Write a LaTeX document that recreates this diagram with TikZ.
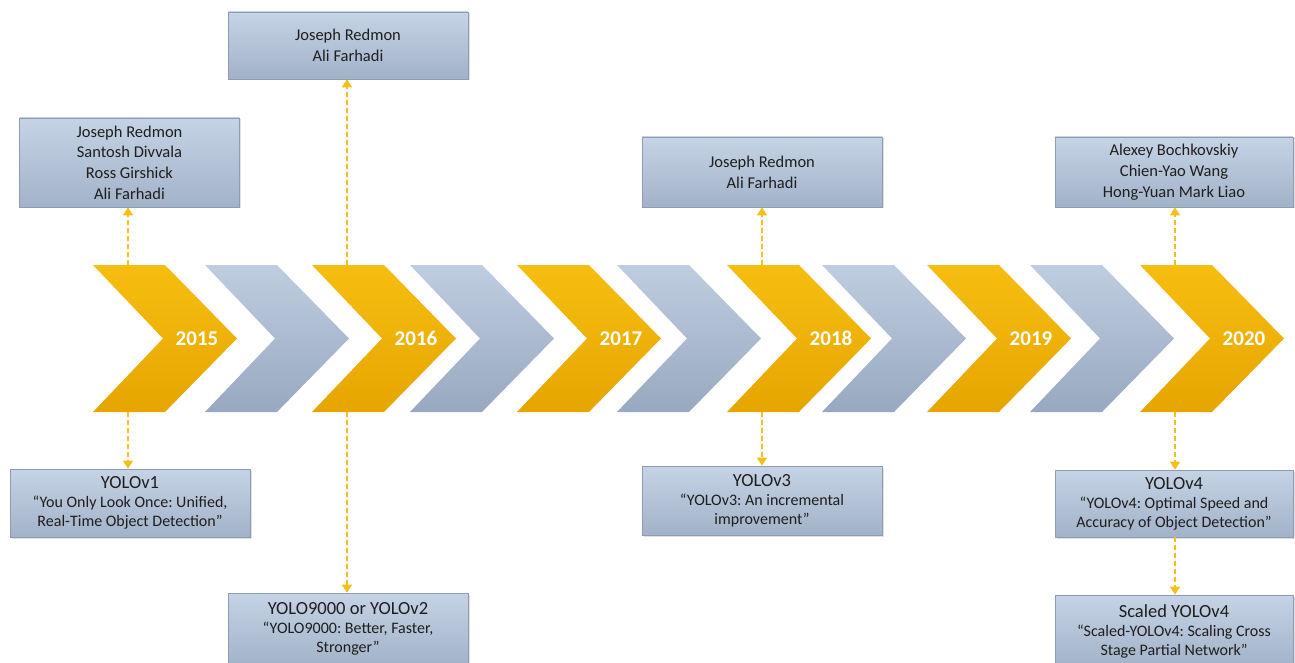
\documentclass[tikz,border=0pt]{standalone}
\usepackage{fontspec}
\setmainfont{Carlito}
\frenchspacing
\usetikzlibrary{arrows.meta,shadows}
\definecolor{goldtop}{HTML}{F6BE10}
\definecolor{goldbot}{HTML}{E6A500}
\definecolor{bluetop}{HTML}{BFCDE0}
\definecolor{bluebot}{HTML}{98A8C0}
\definecolor{boxtop}{HTML}{C6D3E6}
\definecolor{boxbot}{HTML}{A2B2C8}
\definecolor{boxline}{HTML}{8D9CB2}
\definecolor{conncol}{HTML}{F3C01A}
\definecolor{txt}{HTML}{1E1E1E}
\tikzset{
  goldchev/.style={top color=goldtop,bottom color=goldbot,draw=none},
  bluechev/.style={top color=bluetop,bottom color=bluebot,draw=none},
  yearlbl/.style={text=white,font=\fontsize{21}{22}\selectfont\bfseries,inner sep=0pt},
  infobox/.style={rectangle,top color=boxtop,bottom color=boxbot,draw=boxline,line width=0.6pt,
    minimum width=240pt,inner sep=0pt,align=center,text=txt,
    drop shadow={shadow xshift=1.5pt,shadow yshift=-1.5pt,opacity=0.25}},
  authfont/.style={font=\fontsize{16.5}{20.7}\selectfont},
  paperfont/.style={font=\fontsize{16}{19}\selectfont},
  conn/.style={draw=conncol,line width=1.3pt,dash pattern=on 5pt off 3pt,
    -{Triangle[width=10pt,length=8pt,fill=conncol]}},
}
\newcommand{\ttl}[1]{{\fontsize{18.5}{19}\selectfont #1}}
\newcommand{\chev}[3]{% left x, style, name
  \path[#2] (#1,265) -- ++(72,0) -- ++(72,73.5) -- ++(-72,73.5) -- ++(-72,0) -- ++(70,-73.5) -- cycle;
  \coordinate (#3t) at ({#1+35},265);
  \coordinate (#3b) at ({#1+35},412);
}
\begin{document}
\begin{tikzpicture}[x=1pt,y=-1pt]
\useasboundingbox (0,0) rectangle (1295,663);
% chevrons
\chev{93}{goldchev}{c1}
\chev{205}{bluechev}{d1}
\chev{312}{goldchev}{c2}
\chev{410}{bluechev}{d2}
\chev{517}{goldchev}{c3}
\chev{617}{bluechev}{d3}
\chev{727}{goldchev}{c4}
\chev{822}{bluechev}{d4}
\chev{927}{goldchev}{c5}
\chev{1030}{bluechev}{d5}
\chev{1140}{goldchev}{c6}
\node[yearlbl] (y1) at (197,338.5) {2015};
\node[yearlbl] (y2) at (416,338.5) {2016};
\node[yearlbl] (y3) at (621,338.5) {2017};
\node[yearlbl] (y4) at (831,338.5) {2018};
\node[yearlbl] (y5) at (1031,338.5) {2019};
\node[yearlbl] (y6) at (1244,338.5) {2020};
% author boxes
\node[infobox,authfont,minimum width=220pt,minimum height=89pt] (a1) at (129.5,162.5)
  {Joseph Redmon\\Santosh Divvala\\Ross Girshick\\Ali Farhadi};
\node[infobox,authfont,minimum height=67pt] (a2) at (348,45.5)
  {Joseph Redmon\\Ali Farhadi};
\node[infobox,authfont,minimum height=70pt] (a4) at (762,172)
  {Joseph Redmon\\Ali Farhadi};
\node[infobox,authfont,minimum width=238pt,minimum height=70pt] (a6) at (1174,172)
  {Alexey Bochkovskiy\\Chien-Yao Wang\\Hong-Yuan Mark Liao};
% paper boxes
\node[infobox,paperfont,minimum height=68pt] (p1) at (130,503)
  {\ttl{YOLOv1}\\“You Only Look Once: Unified,\\Real-Time Object Detection”};
\node[infobox,paperfont,minimum height=72pt] (p2) at (348,629)
  {\ttl{YOLO9000 or YOLOv2}\\“YOLO9000: Better, Faster,\\Stronger”};
\node[infobox,paperfont,minimum height=69pt] (p4) at (762,500.5)
  {\ttl{YOLOv3}\\“YOLOv3: An incremental\\improvement”};
\node[infobox,paperfont,minimum width=238pt,minimum height=67pt] (p6) at (1174,503.5)
  {\ttl{YOLOv4}\\“YOLOv4: Optimal Speed and\\Accuracy of Object Detection”};
\node[infobox,paperfont,minimum width=238pt,minimum height=72pt] (p7) at (1174,631)
  {\ttl{Scaled YOLOv4}\\“Scaled-YOLOv4: Scaling Cross\\Stage Partial Network”};
% connectors
\draw[conn] (c1t) -- (c1t |- a1.south);
\draw[conn] (c2t) -- (c2t |- a2.south);
\draw[conn] (c4t) -- (c4t |- a4.south);
\draw[conn] (c6t) -- (c6t |- a6.south);
\draw[conn] (c1b) -- (c1b |- p1.north);
\draw[conn] (c2b) -- (c2b |- p2.north);
\draw[conn] (c4b) -- (c4b |- p4.north);
\draw[conn] (c6b) -- (c6b |- p6.north);
\draw[conn] (c6b |- p6.south) -- (c6b |- p7.north);
\end{tikzpicture}
\end{document}
